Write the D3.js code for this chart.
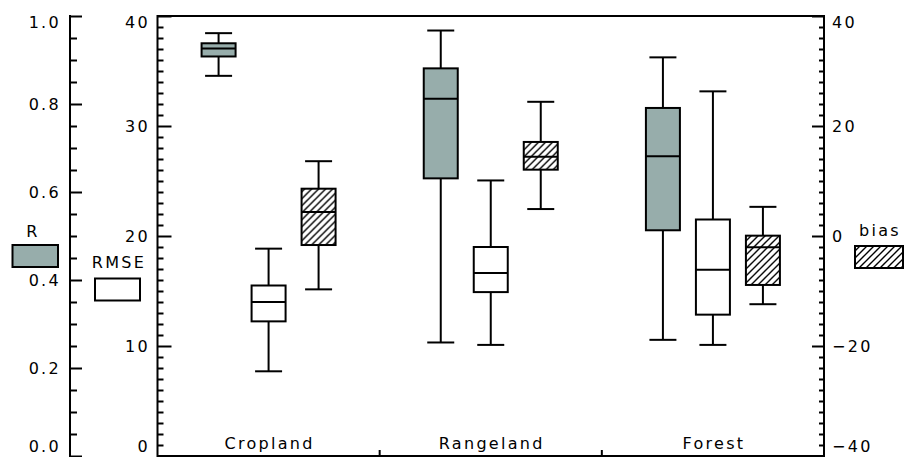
<!DOCTYPE html>
<html>
<head>
<meta charset="utf-8">
<script src="https://cdn.jsdelivr.net/npm/d3@7"></script>
<style>
html,body{margin:0;padding:0;background:#fff;}
svg{display:block;}
text{font-family:"DejaVu Sans",sans-serif;font-size:16px;fill:#000;letter-spacing:2.3px;}
</style>
</head>
<body>
<svg id="chart" width="904" height="457"></svg>
<script>
// ---------- data ----------
const categories = ["Cropland", "Rangeland", "Forest"];
const metrics = ["R", "RMSE", "bias"];
// [whisker low, q1, median, q3, whisker high]
const rStats = [
  [0.864, 0.908, 0.926, 0.938, 0.961],
  [0.258, 0.631, 0.812, 0.881, 0.967],
  [0.264, 0.513, 0.681, 0.791, 0.906]
];
const rmseStats = [
  [7.7, 12.24, 14.0, 15.5, 18.85],
  [10.1, 14.9, 16.64, 19.0, 25.05],
  [10.1, 12.85, 16.94, 21.5, 33.15]
];
const biasStats = [
  [-9.7, -1.64, 4.36, 8.6, 13.6],
  [4.9, 12.06, 14.4, 17.1, 24.4],
  [-12.4, -8.9, -2.06, 0.06, 5.3]
];
const rTicks = [0.0, 0.2, 0.4, 0.6, 0.8, 1.0];
const rTickLabels = ["0.0", "0.2", "0.4", "0.6", "0.8", "1.0"];
const rmseTicks = [0, 10, 20, 30, 40];
const rmseTickLabels = ["0", "10", "20", "30", "40"];
const biasTicks = [-40, -20, 0, 20, 40];
const biasTickLabels = ["\u221240", "\u221220", "0", "20", "40"];

// ---------- layout ----------
const svg = d3.select("#chart");
const plotTop = 16, plotBottom = 456, plotLeft = 157.5, plotRight = 824;
const rAxisX = 70;

const yR = d3.scaleLinear().domain([0, 1]).range([plotBottom, plotTop]);
const yRMSE = d3.scaleLinear().domain([0, 40]).range([plotBottom, plotTop]);
const yBias = d3.scaleLinear().domain([-40, 40]).range([plotBottom, plotTop]);
const x = d3.scaleBand().domain(categories).range([plotLeft, plotRight]).padding(0);
const off = d3.scalePoint().domain(metrics).range([-50, 50]);
const boxW = 34, capW = 27;

const defs = svg.append("defs");
const pat = defs.append("pattern").attr("id", "hatch")
  .attr("patternUnits", "userSpaceOnUse").attr("width", 7).attr("height", 7);
pat.append("rect").attr("width", 7).attr("height", 7).attr("fill", "#fff");
pat.append("path").attr("d", "M-1,1 l2,-2 M0,7 l7,-7 M6,8 l2,-2")
  .attr("stroke", "#000").attr("stroke-width", 1.4);

const fills = {R: "#97adab", RMSE: "#ffffff", bias: "url(#hatch)"};
const scales = {R: yR, RMSE: yRMSE, bias: yBias};
const stats = {R: rStats, RMSE: rmseStats, bias: biasStats};

function minorTicks(lo, hi, step, majors) {
  const out = [];
  for (let i = 0; lo + i * step <= hi + 1e-9; i++) {
    const v = +(lo + i * step).toFixed(6);
    if (!majors.some(m => Math.abs(m - v) < 1e-9)) out.push(v);
  }
  return out;
}
function clampLabel(y) { return Math.max(28, Math.min(452, y + 6)); }

function styleAxis(g) {
  g.select(".domain").remove();
  g.selectAll("line").attr("stroke", "#000").attr("stroke-width", 2);
}

// ---------- R axis (left, separate) ----------
svg.append("line").attr("x1", rAxisX).attr("x2", rAxisX)
  .attr("y1", yR(1) - 1).attr("y2", yR(0) + 1)
  .attr("stroke", "#000").attr("stroke-width", 2);
svg.append("g").attr("transform", `translate(${rAxisX},0)`)
  .call(d3.axisRight(yR).tickValues(rTicks).tickSize(12).tickFormat(""))
  .call(styleAxis);
svg.append("g").attr("transform", `translate(${rAxisX},0)`)
  .call(d3.axisRight(yR).tickValues(minorTicks(0, 1, 0.05, rTicks)).tickSize(7).tickFormat(""))
  .call(styleAxis);
svg.append("g").selectAll("text").data(rTicks).join("text")
  .attr("x", 61).attr("y", d => clampLabel(yR(d)))
  .attr("text-anchor", "end")
  .text((d, i) => rTickLabels[i]);

// ---------- frame ----------
svg.append("rect").attr("x", plotLeft).attr("y", plotTop)
  .attr("width", plotRight - plotLeft).attr("height", plotBottom - plotTop)
  .attr("fill", "none").attr("stroke", "#000").attr("stroke-width", 2);

// RMSE axis (left of frame)
svg.append("g").attr("transform", `translate(${plotLeft},0)`)
  .call(d3.axisRight(yRMSE).tickValues(rmseTicks).tickSize(14).tickFormat(""))
  .call(styleAxis);
svg.append("g").attr("transform", `translate(${plotLeft},0)`)
  .call(d3.axisRight(yRMSE).tickValues(minorTicks(0, 40, 1, rmseTicks)).tickSize(6).tickFormat(""))
  .call(styleAxis);
svg.append("g").selectAll("text").data(rmseTicks).join("text")
  .attr("x", 150).attr("y", d => clampLabel(yRMSE(d)))
  .attr("text-anchor", "end")
  .text((d, i) => rmseTickLabels[i]);

// bias axis (right of frame)
svg.append("g").attr("transform", `translate(${plotRight},0)`)
  .call(d3.axisLeft(yBias).tickValues(biasTicks).tickSize(12).tickFormat(""))
  .call(styleAxis);
svg.append("g").attr("transform", `translate(${plotRight},0)`)
  .call(d3.axisLeft(yBias).tickValues(minorTicks(-40, 40, 2, biasTicks)).tickSize(5).tickFormat(""))
  .call(styleAxis);
svg.append("g").selectAll("text").data(biasTicks).join("text")
  .attr("x", 832).attr("y", d => clampLabel(yBias(d)))
  .attr("text-anchor", "start")
  .text((d, i) => biasTickLabels[i]);

// category axis (bottom)
const bounds = categories.slice(1).map(c => x(c));
svg.append("g").selectAll("line").data(bounds).join("line")
  .attr("x1", d => d).attr("x2", d => d)
  .attr("y1", plotBottom).attr("y2", plotBottom - 6)
  .attr("stroke", "#000").attr("stroke-width", 2);
svg.append("g").selectAll("text").data(categories).join("text")
  .attr("x", d => x(d) + x.bandwidth() / 2 + 1)
  .attr("y", 449)
  .attr("text-anchor", "middle")
  .text(d => d);

// ---------- boxes ----------
const boxData = [];
categories.forEach((c, ci) => {
  metrics.forEach(m => {
    boxData.push({cat: c, metric: m, s: stats[m][ci]});
  });
});
const boxLayer = svg.append("g");
const bx = boxLayer.selectAll("g.box").data(boxData).join("g").attr("class", "box")
  .attr("transform", d => `translate(${x(d.cat) + x.bandwidth() / 2 + off(d.metric)},0)`);
bx.each(function(d) {
  const y = scales[d.metric];
  const s = d.s;
  const el = d3.select(this);
  const line = (x1, y1, x2, y2) => el.append("line")
    .attr("x1", x1).attr("y1", y1).attr("x2", x2).attr("y2", y2)
    .attr("stroke", "#000").attr("stroke-width", 2);
  line(0, y(s[0]), 0, y(s[1]));
  line(0, y(s[3]), 0, y(s[4]));
  line(-capW / 2, y(s[0]), capW / 2, y(s[0]));
  line(-capW / 2, y(s[4]), capW / 2, y(s[4]));
  el.append("rect").attr("x", -boxW / 2).attr("y", y(s[3]))
    .attr("width", boxW).attr("height", y(s[1]) - y(s[3]))
    .attr("fill", fills[d.metric]).attr("stroke", "#000").attr("stroke-width", 2);
  line(-boxW / 2, y(s[2]), boxW / 2, y(s[2]));
});

// ---------- legends ----------
const legend = [
  {metric: "R", label: "R", lx: 33, ly: 237, bx: 12.5, by: 245, bw: 45.5, bh: 22},
  {metric: "RMSE", label: "RMSE", lx: 119, ly: 268, bx: 95, by: 278.5, bw: 45, bh: 22},
  {metric: "bias", label: "bias", lx: 880, ly: 236, bx: 855, by: 246, bw: 48, bh: 22}
];
const lg = svg.append("g");
legend.forEach(l => {
  lg.append("text").attr("x", l.lx).attr("y", l.ly).attr("text-anchor", "middle").text(l.label);
  lg.append("rect").attr("x", l.bx).attr("y", l.by).attr("width", l.bw).attr("height", l.bh)
    .attr("fill", fills[l.metric]).attr("stroke", "#000").attr("stroke-width", 2);
});
</script>
</body>
</html>
